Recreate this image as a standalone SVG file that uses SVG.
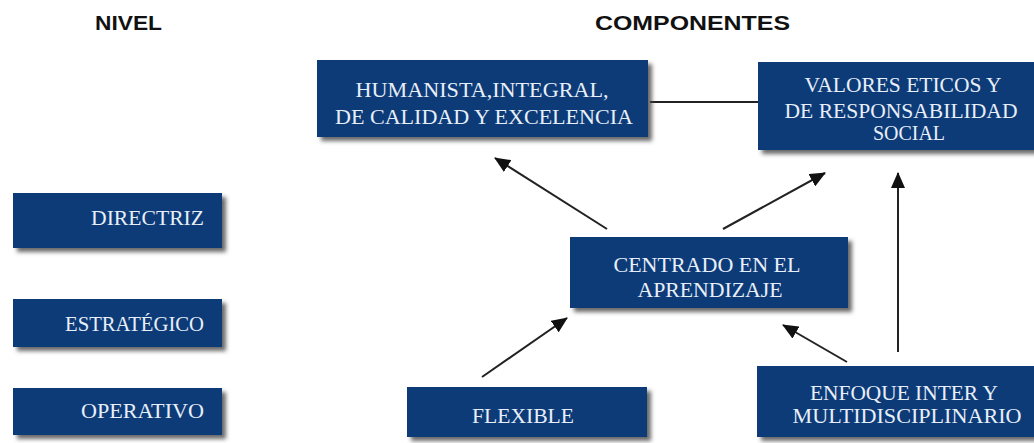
<svg xmlns="http://www.w3.org/2000/svg" width="1034" height="443" viewBox="0 0 1034 443">
  <defs>
    <style>
      .box { fill: #0b3a78; filter: url(#sh); }
      .bt { font-family: "Liberation Serif", "Times New Roman", serif; font-size: 20px; fill: #e8eff9; text-anchor: middle; }
      .lt { font-family: "Liberation Serif", "Times New Roman", serif; font-size: 20px; fill: #e8eff9; text-anchor: end; }
      .hd { font-family: "Liberation Sans", Arial, sans-serif; font-size: 21px; font-weight: bold; fill: #111111; }
      .cn { stroke: #222222; stroke-width: 2; fill: none; }
      .ar { marker-end: url(#ah); }
    </style>
    <filter id="sh" x="-10%" y="-10%" width="130%" height="140%">
      <feDropShadow dx="4" dy="4" stdDeviation="2" flood-color="#444444" flood-opacity="0.8"/>
    </filter>
    <marker id="ah" markerUnits="userSpaceOnUse" markerWidth="16" markerHeight="14" refX="15" refY="7" orient="auto">
      <path d="M0,0 L16,7 L0,14 Z" fill="#111111"/>
    </marker>
  </defs>
  <rect width="1034" height="443" fill="#ffffff"/>

  <text class="hd" x="95" y="30" textLength="67" lengthAdjust="spacingAndGlyphs">NIVEL</text>
  <text class="hd" x="595" y="30" textLength="195" lengthAdjust="spacingAndGlyphs">COMPONENTES</text>

  <g id="connectors">
    <line class="cn" x1="650" y1="102" x2="758" y2="102"/>
    <line class="cn ar" x1="607" y1="229" x2="495" y2="158"/>
    <line class="cn ar" x1="723" y1="229" x2="825" y2="173"/>
    <line class="cn ar" x1="482" y1="377" x2="567" y2="318"/>
    <line class="cn ar" x1="847" y1="362" x2="783" y2="325"/>
    <line class="cn ar" x1="898" y1="352" x2="898" y2="173"/>
  </g>

  <g id="humanista">
    <rect class="box" x="317" y="60" width="331" height="77"/>
    <text class="bt" x="482" y="97" textLength="253" lengthAdjust="spacingAndGlyphs">HUMANISTA,INTEGRAL,</text>
    <text class="bt" x="484" y="124" textLength="298" lengthAdjust="spacingAndGlyphs">DE CALIDAD Y EXCELENCIA</text>
  </g>

  <g id="valores">
    <rect class="box" x="758" y="62" width="280" height="88"/>
    <text class="bt" x="903" y="92" textLength="197" lengthAdjust="spacingAndGlyphs">VALORES ETICOS Y</text>
    <text class="bt" x="901" y="118" textLength="233" lengthAdjust="spacingAndGlyphs">DE RESPONSABILIDAD</text>
    <text class="bt" x="909" y="140" textLength="72" lengthAdjust="spacingAndGlyphs">SOCIAL</text>
  </g>

  <g id="directriz">
    <rect class="box" x="13" y="193" width="209" height="55"/>
    <text class="lt" x="204" y="225" textLength="113" lengthAdjust="spacingAndGlyphs">DIRECTRIZ</text>
  </g>

  <g id="estrategico">
    <rect class="box" x="13" y="299" width="209" height="48"/>
    <text class="lt" x="204" y="331" textLength="139" lengthAdjust="spacingAndGlyphs">ESTRATÉGICO</text>
  </g>

  <g id="operativo">
    <rect class="box" x="13" y="388" width="209" height="47"/>
    <text class="lt" x="204" y="418" textLength="123" lengthAdjust="spacingAndGlyphs">OPERATIVO</text>
  </g>

  <g id="centrado">
    <rect class="box" x="570" y="237" width="278" height="71"/>
    <text class="bt" x="707" y="272" textLength="187" lengthAdjust="spacingAndGlyphs">CENTRADO EN EL</text>
    <text class="bt" x="710" y="297" textLength="145" lengthAdjust="spacingAndGlyphs">APRENDIZAJE</text>
  </g>

  <g id="flexible">
    <rect class="box" x="407" y="387" width="240" height="50"/>
    <text class="bt" x="523" y="423" textLength="102" lengthAdjust="spacingAndGlyphs">FLEXIBLE</text>
  </g>

  <g id="enfoque">
    <rect class="box" x="757" y="366" width="281" height="71"/>
    <text class="bt" x="904" y="400" textLength="188" lengthAdjust="spacingAndGlyphs">ENFOQUE INTER Y</text>
    <text class="bt" x="907" y="423" textLength="229" lengthAdjust="spacingAndGlyphs">MULTIDISCIPLINARIO</text>
  </g>
</svg>
